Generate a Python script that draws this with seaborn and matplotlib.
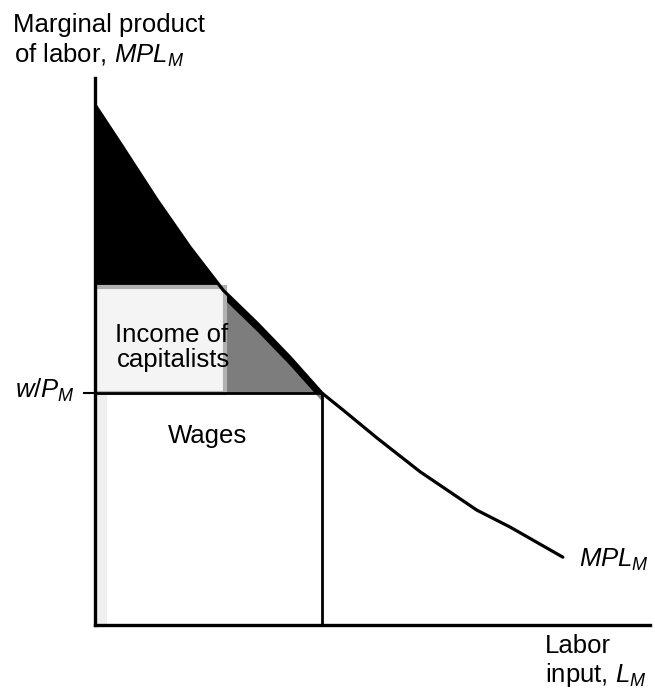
import numpy as np
import pandas as pd
import matplotlib
matplotlib.use("Agg")
import matplotlib.pyplot as plt
from matplotlib.patches import Rectangle
import seaborn as sns

# MPL_M curve (axis units 0..10)
labor = [0.0, 0.50, 1.12, 1.71, 2.31, 2.92, 3.51, 4.09, 4.47, 5.08, 5.86, 6.88, 7.48, 8.43]
mpl = [9.51, 8.74, 7.77, 6.91, 6.12, 5.52, 4.90, 4.24, 3.93, 3.42, 2.80, 2.10, 1.79, 1.24]

wage = 4.24          # w/P_M
labor_eq = 4.09      # employment where MPL = w/P
box_right = 2.34     # light box behind "Income of capitalists"
box_top = 6.18

sns.set_theme(style="white")
plt.rcParams["font.family"] = ["Liberation Sans", "DejaVu Sans"]
plt.rcParams["text.color"] = "black"
plt.rcParams["mathtext.fontset"] = "custom"
plt.rcParams["mathtext.rm"] = "Liberation Sans"
plt.rcParams["mathtext.it"] = "Liberation Sans:italic"

W, H = 655, 697
fig = plt.figure(figsize=(W / 100, H / 100), dpi=100)
ax = fig.add_axes([95 / W, 72 / H, 555 / W, 547 / H])

df = pd.DataFrame({"L": labor, "MPL": mpl})
x = df["L"].to_numpy()
y = df["MPL"].to_numpy()

# capitalists' income: dark area between the curve and the wage
left = x <= labor_eq
ax.fill_between(x[left], wage, y[left], color="black", lw=0, zorder=1)

# stippled grey part near the bottom of the triangle
part = (x >= 2.31) & left
ax.fill_between(x[part], wage, np.minimum(y[part], box_top) - 0.15,
                color="#7d7d7d", lw=0, zorder=2)

# light box behind the label
ax.add_patch(Rectangle((0, wage), box_right, box_top - wage,
                       facecolor="#f4f4f4", edgecolor="#b0b0b0", lw=3, zorder=3))

# faint stipple on the left edge of the wage box
ax.add_patch(Rectangle((0, 0), 0.22, wage, facecolor="#efefef", lw=0, zorder=1))

sns.lineplot(data=df, x="L", y="MPL", color="black", lw=2.3, ax=ax, zorder=5)

ax.plot([0, labor_eq], [wage, wage], color="black", lw=2, zorder=5)
ax.plot([labor_eq, labor_eq], [0, wage], color="black", lw=2, zorder=5)

ax.set_xlim(0, 10)
ax.set_ylim(0, 10)
ax.set_xlabel("")
ax.set_ylabel("")
ax.set_xticks([])
ax.set_yticks([wage])
ax.set_yticklabels([""])
ax.tick_params(axis="y", left=True, length=9, width=1.5, color="black", direction="out")
for s in ["top", "right"]:
    ax.spines[s].set_visible(False)
for s in ["left", "bottom"]:
    ax.spines[s].set_color("black")
    ax.spines[s].set_linewidth(2.4)
    ax.spines[s].set_zorder(6)

fs = 18.5
ax.text(0.36, 5.17, "Income of", fontsize=fs, ha="left", va="baseline", zorder=7)
ax.text(0.40, 4.72, "capitalists", fontsize=fs, ha="left", va="baseline", zorder=7)
ax.text(1.32, 3.33, "Wages", fontsize=fs, ha="left", va="baseline", zorder=7)


def ftext(px, py, s, **kw):
    fig.text(px / W, 1 - py / H, s, fontsize=fs, ha="left", va="baseline", **kw)


ftext(13, 32, "Marginal product")
ftext(14, 63, r"of labor, $MPL_M$")
ftext(15, 398, r"$w/P_M$")
ftext(579, 567, r"$MPL_M$")
ftext(545, 653, "Labor")
ftext(545, 682, r"input, $L_M$")

fig.savefig("out.png", dpi=100)
